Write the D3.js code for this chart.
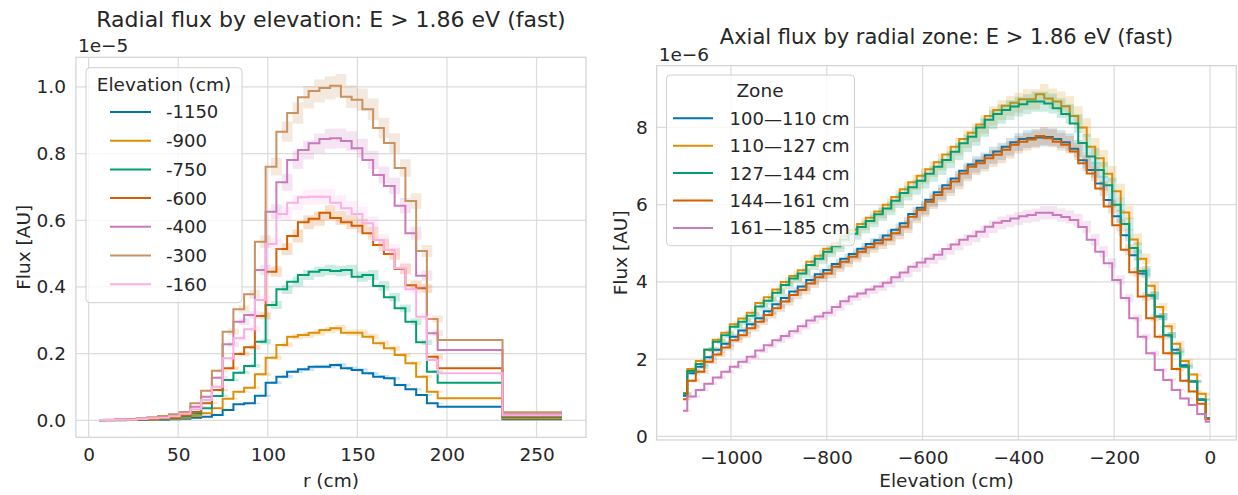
<!DOCTYPE html>
<html>
<head>
<meta charset="utf-8">
<script src="https://cdn.jsdelivr.net/npm/d3@7"></script>
<style>
  body { margin: 0; background: #fff; }
  svg text { font-family: "DejaVu Sans", Lato, sans-serif; fill: #262626; }
</style>
</head>
<body>
<svg id="chart" width="1238" height="495"></svg>
<script>
// ---- left panel: radial flux, one curve per elevation (values in 1e-5) ----
var radialR = [5.8, 11.8, 17.8, 23.8, 29.8, 35.8, 41.8, 47.8, 53.8, 59.8, 65.8, 71.8,
    77.8, 83.8, 89.8, 95.8, 101.8, 107.8, 113.8, 119.8, 125.8, 131.8, 137.8, 143.8,
    149.8, 155.8, 161.8, 167.8, 173.8, 179.8, 185.8, 191.8, 197.8, 264.2];
var elevLabels = ["-1150", "-900", "-750", "-600", "-400", "-300", "-160"];
var fluxElevM1150 = [0.0002, 0.0003, 0.0005, 0.0007, 0.001, 0.0015, 0.002, 0.003, 0.005, 0.008, 0.011, 0.016,
    0.031, 0.048, 0.051, 0.074, 0.113, 0.131, 0.146, 0.153, 0.161, 0.161, 0.166, 0.156,
    0.151, 0.141, 0.131, 0.126, 0.106, 0.093, 0.076, 0.051, 0.041, 0.003];
var fluxElevM900 = [0.0003, 0.0005, 0.0008, 0.001, 0.0015, 0.002, 0.003, 0.005, 0.008, 0.013, 0.021, 0.036,
    0.065, 0.086, 0.098, 0.138, 0.188, 0.226, 0.251, 0.256, 0.263, 0.271, 0.276, 0.263,
    0.263, 0.251, 0.231, 0.216, 0.196, 0.171, 0.131, 0.086, 0.066, 0.006];
var fluxElevM750 = [0.0005, 0.0008, 0.001, 0.0015, 0.002, 0.003, 0.005, 0.008, 0.012, 0.020, 0.036, 0.073,
    0.121, 0.143, 0.163, 0.236, 0.346, 0.393, 0.416, 0.436, 0.446, 0.451, 0.448, 0.451,
    0.431, 0.436, 0.403, 0.369, 0.336, 0.296, 0.234, 0.146, 0.113, 0.010];
var fluxElevM600 = [0.0007, 0.001, 0.0015, 0.002, 0.003, 0.004, 0.006, 0.009, 0.015, 0.025, 0.051, 0.091,
    0.156, 0.199, 0.219, 0.313, 0.446, 0.514, 0.553, 0.594, 0.605, 0.623, 0.607, 0.594,
    0.584, 0.561, 0.526, 0.499, 0.454, 0.405, 0.396, 0.191, 0.156, 0.012];
var fluxElevM400 = [0.001, 0.0012, 0.002, 0.003, 0.005, 0.007, 0.010, 0.014, 0.021, 0.041, 0.071, 0.128,
    0.228, 0.296, 0.316, 0.451, 0.626, 0.714, 0.781, 0.811, 0.831, 0.844, 0.846, 0.838,
    0.816, 0.781, 0.736, 0.703, 0.644, 0.561, 0.434, 0.261, 0.211, 0.018];
var fluxElevM300 = [0.001, 0.002, 0.003, 0.004, 0.006, 0.009, 0.013, 0.018, 0.025, 0.051, 0.089, 0.149,
    0.266, 0.333, 0.378, 0.536, 0.761, 0.866, 0.922, 0.969, 0.988, 0.997, 1.004, 0.971,
    0.962, 0.933, 0.877, 0.832, 0.757, 0.658, 0.508, 0.304, 0.241, 0.024];
var fluxElevM160 = [0.0008, 0.001, 0.0015, 0.002, 0.004, 0.006, 0.008, 0.012, 0.02, 0.033, 0.061, 0.101,
    0.186, 0.246, 0.273, 0.361, 0.529, 0.619, 0.653, 0.669, 0.671, 0.671, 0.653, 0.636,
    0.619, 0.591, 0.541, 0.511, 0.456, 0.393, 0.311, 0.181, 0.141, 0.015];
// relative half-width of the shaded band per radial bin (the wide outer bins show none)
var radialErr = [0.04, 0.04, 0.04, 0.04, 0.04, 0.04, 0.04, 0.04, 0.04, 0.04, 0.04, 0.04,
    0.035, 0.035, 0.035, 0.035, 0.035, 0.035, 0.035, 0.035, 0.035, 0.035, 0.035, 0.035,
    0.035, 0.035, 0.035, 0.035, 0.035, 0.035, 0.035, 0.035, 0, 0];

// ---- right panel: axial flux, one curve per radial zone (values in 1e-6) ----
var axialZ = [-1100, -1082.3, -1064.5, -1046.8, -1029.0, -1011.3, -993.5, -975.8, -958.1, -940.3,
    -922.6, -904.8, -887.1, -869.4, -851.6, -833.9, -816.1, -798.4, -780.6, -762.9,
    -745.2, -727.4, -709.7, -691.9, -674.2, -656.5, -638.7, -621.0, -603.2, -585.5,
    -567.7, -550.0, -532.3, -514.5, -496.8, -479.0, -461.3, -443.5, -425.8, -408.1,
    -390.3, -372.6, -354.8, -337.1, -319.4, -301.6, -283.9, -266.1, -248.4, -230.6,
    -212.9, -195.2, -177.4, -159.7, -141.9, -124.2, -106.5, -88.7, -71.0, -53.2,
    -35.5, -17.7, 0];
var zoneLabels = ["100\u2014110 cm", "110\u2014127 cm", "127\u2014144 cm", "144\u2014161 cm", "161\u2014185 cm"];
var fluxZone100 = [1.05, 1.63, 1.8, 2.05, 2.24, 2.4, 2.58, 2.74, 2.9, 3.06, 3.24, 3.42, 3.58, 3.75, 3.88,
    4.05, 4.2, 4.31, 4.46, 4.6, 4.72, 4.86, 4.98, 5.08, 5.2, 5.35, 5.52, 5.76, 5.92, 6.13,
    6.32, 6.5, 6.68, 6.88, 7.04, 7.14, 7.28, 7.38, 7.5, 7.62, 7.7, 7.73, 7.74, 7.75, 7.7,
    7.62, 7.45, 7.15, 6.9, 6.55, 6.12, 5.7, 5.21, 4.69, 4.22, 3.65, 3.1, 2.62, 2.24, 1.84,
    1.42, 0.96, 0.47];
var fluxZone110 = [1.12, 1.74, 1.95, 2.25, 2.5, 2.68, 2.9, 3.05, 3.2, 3.45, 3.6, 3.8, 4.0, 4.15, 4.3,
    4.52, 4.68, 4.86, 5.0, 5.18, 5.35, 5.5, 5.66, 5.82, 6.0, 6.2, 6.4, 6.58, 6.75, 6.92,
    7.1, 7.3, 7.5, 7.7, 7.86, 8.08, 8.3, 8.45, 8.56, 8.64, 8.73, 8.73, 8.86, 8.75, 8.67,
    8.55, 8.3, 8.0, 7.5, 7.2, 6.8, 6.35, 5.8, 5.1, 4.6, 3.9, 3.35, 2.85, 2.4, 1.95,
    1.6, 1.1, 0.45];
var fluxZone127 = [1.1, 1.69, 1.87, 2.24, 2.45, 2.62, 2.84, 2.97, 3.12, 3.36, 3.51, 3.72, 3.92, 4.09, 4.22,
    4.44, 4.6, 4.78, 4.92, 5.1, 5.25, 5.42, 5.58, 5.75, 5.9, 6.1, 6.3, 6.45, 6.62, 6.8,
    6.98, 7.16, 7.37, 7.59, 7.76, 8.0, 8.2, 8.35, 8.45, 8.54, 8.6, 8.67, 8.67, 8.62, 8.5,
    8.35, 8.1, 7.6, 7.25, 6.9, 6.5, 6.0, 5.5, 4.88, 4.28, 3.65, 3.1, 2.62, 2.15, 1.8,
    1.42, 0.94, 0.47];
var fluxZone144 = [0.96, 1.44, 1.67, 1.93, 2.12, 2.3, 2.49, 2.62, 2.8, 2.97, 3.14, 3.32, 3.49, 3.66, 3.79,
    3.96, 4.12, 4.22, 4.39, 4.52, 4.65, 4.78, 4.9, 5.0, 5.1, 5.26, 5.43, 5.69, 5.86, 6.07,
    6.25, 6.42, 6.6, 6.81, 6.98, 7.07, 7.2, 7.29, 7.42, 7.55, 7.63, 7.69, 7.78, 7.72, 7.63,
    7.55, 7.38, 7.07, 6.81, 6.42, 5.95, 5.47, 4.83, 4.25, 3.62, 3.06, 2.58, 2.15, 1.74, 1.44,
    1.16, 0.84, 0.44];
var fluxZone161 = [0.66, 1.03, 1.2, 1.36, 1.52, 1.67, 1.8, 1.93, 2.06, 2.22, 2.36, 2.49, 2.6, 2.72, 2.85,
    3.0, 3.1, 3.2, 3.35, 3.5, 3.62, 3.7, 3.8, 3.88, 3.98, 4.12, 4.24, 4.39, 4.5, 4.6,
    4.7, 4.85, 4.97, 5.09, 5.18, 5.3, 5.43, 5.53, 5.58, 5.64, 5.7, 5.73, 5.79, 5.79, 5.73,
    5.68, 5.6, 5.42, 5.09, 4.78, 4.48, 4.05, 3.58, 3.06, 2.58, 2.15, 1.72, 1.46, 1.2, 0.98,
    0.81, 0.58, 0.38];
var axialErr = [0.03];   // one value, used for every point

var radialTicksX = [0, 50, 100, 150, 200, 250];
var radialTicksY = [0, 0.2, 0.4, 0.6, 0.8, 1.0];
var axialTicksX = [-1000, -800, -600, -400, -200, 0];
var axialTicksY = [0, 2, 4, 6, 8];

var palette = ["#0173b2", "#de8f05", "#029e73", "#d55e00", "#cc78bc", "#ca9161", "#fbafe4"];

var svg = d3.select("#chart");

function drawPanel(p) {
    var g = svg.append("g");
    var errAt = function(j) { return p.err.length > 1 ? p.err[j] : p.err[0]; };

    // grid + frame
    g.selectAll(".gx").data(p.ticksX).enter().append("line")
        .attr("x1", function(d) { return p.x(d); }).attr("x2", function(d) { return p.x(d); })
        .attr("y1", p.y.range()[0]).attr("y2", p.y.range()[1])
        .attr("stroke", "#dcdcdc").attr("stroke-width", 1.2);
    g.selectAll(".gy").data(p.ticksY).enter().append("line")
        .attr("y1", function(d) { return p.y(d); }).attr("y2", function(d) { return p.y(d); })
        .attr("x1", p.x.range()[0]).attr("x2", p.x.range()[1])
        .attr("stroke", "#dcdcdc").attr("stroke-width", 1.2);
    g.append("rect")
        .attr("x", p.x.range()[0]).attr("y", p.y.range()[1])
        .attr("width", p.x.range()[1] - p.x.range()[0])
        .attr("height", p.y.range()[0] - p.y.range()[1])
        .attr("fill", "none").attr("stroke", "#d2d2d2").attr("stroke-width", 1.2);

    // axes (labels only, seaborn style)
    var ax = g.append("g")
        .attr("transform", "translate(0," + p.y.range()[0] + ")")
        .call(d3.axisBottom(p.x).tickValues(p.ticksX).tickSize(0).tickPadding(11).tickFormat(p.fmtX));
    var ay = g.append("g")
        .attr("transform", "translate(" + p.x.range()[0] + ",0)")
        .call(d3.axisLeft(p.y).tickValues(p.ticksY).tickSize(0).tickPadding(p.padY).tickFormat(p.fmtY));
    [ax, ay].forEach(function(a) {
        a.select(".domain").remove();
        a.selectAll("text").style("font-size", "18.5px").attr("fill", "#262626");
    });

    // bands then lines, series by series
    p.series.forEach(function(s, i) {
        var pts = p.xs.map(function(xv, j) { return { x: xv, v: s[j], e: errAt(j) }; });
        var band = d3.area()
            .curve(d3.curveStepAfter)
            .x(function(d) { return p.x(d.x); })
            .y0(function(d) { return p.y(d.v * (1 - d.e)); })
            .y1(function(d) { return p.y(d.v * (1 + d.e)); });
        var line = d3.line()
            .curve(d3.curveStep)
            .x(function(d) { return p.x(d.x); })
            .y(function(d) { return p.y(d.v); });
        g.append("path").datum(pts).attr("d", band)
            .attr("fill", palette[i]).attr("fill-opacity", 0.2);
        g.append("path").datum(pts).attr("d", line)
            .attr("fill", "none").attr("stroke", palette[i]).attr("stroke-width", 2);
    });

    // legend
    var L = p.legend;
    var lg = g.append("g");
    lg.append("rect")
        .attr("x", L.x).attr("y", L.y).attr("width", L.w).attr("height", L.h)
        .attr("rx", 4).attr("fill", "#fff").attr("fill-opacity", 0.8)
        .attr("stroke", "#d0d0d0").attr("stroke-width", 1);
    lg.append("text").attr("x", L.titleX).attr("y", L.titleY).attr("dy", "0.36em")
        .attr("text-anchor", "middle").style("font-size", "18.5px").text(L.title);
    p.labels.forEach(function(lab, i) {
        var yy = L.row0 + i * L.rowStep;
        lg.append("line").attr("x1", L.lineX0).attr("x2", L.lineX1)
            .attr("y1", yy).attr("y2", yy)
            .attr("stroke", palette[i]).attr("stroke-width", 2);
        lg.append("text").attr("x", L.textX).attr("y", yy).attr("dy", "0.36em")
            .style("font-size", "18px").text(lab);
    });

    // titles and axis names
    var cx = (p.x.range()[0] + p.x.range()[1]) / 2;
    var cy = (p.y.range()[0] + p.y.range()[1]) / 2;
    g.append("text").attr("x", cx).attr("y", p.titleY).attr("text-anchor", "middle")
        .style("font-size", p.titleSize).text(p.title);
    g.append("text").attr("x", cx).attr("y", 487).attr("text-anchor", "middle")
        .style("font-size", "18.5px").text(p.xlabel);
    g.append("text").attr("transform", "translate(" + p.ylabelX + "," + cy + ") rotate(-90)")
        .attr("text-anchor", "middle").style("font-size", "18.5px").text("Flux [AU]");
    g.append("text").attr("x", p.x.range()[0] + 2).attr("y", p.offsetY)
        .style("font-size", "18.5px").text(p.offset);
}

drawPanel({
    xs: radialR,
    series: [fluxElevM1150, fluxElevM900, fluxElevM750, fluxElevM600, fluxElevM400, fluxElevM300, fluxElevM160],
    labels: elevLabels,
    err: radialErr,
    x: d3.scaleLinear().domain([-7.1, 277.6]).range([75.9, 586]),
    y: d3.scaleLinear().domain([-0.051, 1.089]).range([437.3, 57.3]),
    ticksX: radialTicksX, ticksY: radialTicksY,
    fmtX: d3.format("d"), fmtY: d3.format(".1f"), padY: 10,
    title: "Radial flux by elevation: E > 1.86 eV (fast)", titleY: 27, titleSize: "22px",
    xlabel: "r (cm)", ylabelX: 30,
    offset: "1e\u22125", offsetY: 52,
    legend: { x: 86, y: 67.7, w: 156, h: 235, title: "Elevation (cm)", titleX: 164, titleY: 84,
              row0: 112, rowStep: 28.7, lineX0: 110, lineX1: 151, textX: 166 }
});

drawPanel({
    xs: axialZ,
    series: [fluxZone100, fluxZone110, fluxZone127, fluxZone144, fluxZone161],
    labels: zoneLabels,
    err: axialErr,
    x: d3.scaleLinear().domain([-1155, 55]).range([656.7, 1236.3]),
    y: d3.scaleLinear().domain([-0.096, 9.6]).range([440, 65.7]),
    ticksX: axialTicksX, ticksY: axialTicksY,
    fmtX: d3.format("d"), fmtY: d3.format("d"), padY: 9,
    title: "Axial flux by radial zone: E > 1.86 eV (fast)", titleY: 44, titleSize: "21px",
    xlabel: "Elevation (cm)", ylabelX: 627,
    offset: "1e\u22126", offsetY: 61,
    legend: { x: 666.5, y: 75, w: 188, h: 170.7, title: "Zone", titleX: 760, titleY: 90.7,
              row0: 118.3, rowStep: 27.4, lineX0: 673, lineX1: 713, textX: 729.6 }
});
</script>
</body>
</html>
